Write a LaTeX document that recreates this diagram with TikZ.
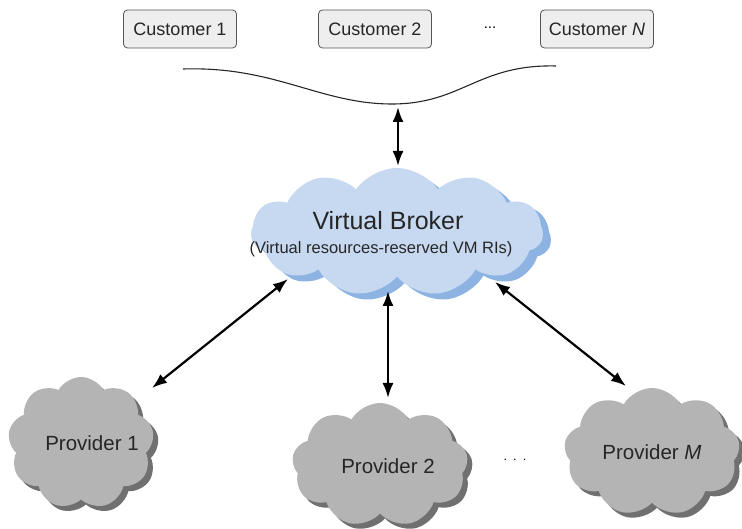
\documentclass[tikz,border=0pt]{standalone}
\usepackage{fontspec}
\setmainfont{Liberation Sans}
\usetikzlibrary{shapes.symbols,shadows,arrows.meta}
\definecolor{boxfill}{HTML}{EEEEEE}
\definecolor{boxline}{HTML}{555555}
\definecolor{brokerfill}{HTML}{C6D9F1}
\definecolor{brokershade}{HTML}{8DB3E2}
\definecolor{provfill}{HTML}{B4B4B4}
\definecolor{provshade}{HTML}{707070}
\tikzset{
  custbox/.style={draw=boxline, fill=boxfill, rounded corners=4pt, line width=0.8pt,
    minimum width=113pt, minimum height=38pt, font=\fontsize{18}{21}\selectfont, text=black!85},
  brokercloud/.style={cloud, cloud puffs=11, cloud puff arc=110, aspect=2.4,
    fill=brokerfill, draw=none, minimum width=292pt, minimum height=128pt,
    drop shadow={shadow xshift=8pt, shadow yshift=-6pt, fill=brokershade, opacity=1}},
  provcloud/.style={cloud, cloud puffs=9, cloud puff arc=120, aspect=1.2,
    fill=provfill, draw=none,
    drop shadow={shadow xshift=5pt, shadow yshift=-5pt, fill=provshade, opacity=1}},
  provtext/.style={font=\fontsize{20.5}{24}\selectfont, text=black!85},
  link/.style={{Latex[length=15pt,width=11pt]}-{Latex[length=15pt,width=11pt]}, line width=2.2pt},
}
\begin{document}
\begin{tikzpicture}[x=1pt,y=-1pt]
\useasboundingbox (0,0) rectangle (742,529);

% customers
\node[custbox] (c1) at (180,29) {Customer 1};
\node[custbox] (c2) at (375,29) {Customer 2};
\node[custbox] (cn) at (597,29) {Customer \textit{N}};
\node[font=\fontsize{15}{18}\selectfont] (cdots) at (490,28) {...};

% brace-like wave under the customers
\draw[line width=1.1pt, black!85] (183,69) .. controls (275,66) and (320,104) .. (392,104)
  .. controls (462,104) and (478,64) .. (556,66);
\coordinate (wave) at (398,107);

% broker cloud
\node[brokercloud] (broker) at (397,232) {};
\node[font=\fontsize{25}{30}\selectfont, text=black!85] (btitle) at (388,221) {Virtual Broker};
\node[font=\fontsize{16.5}{20}\selectfont, text=black!85] (bsub) at (381,249) {(Virtual resources-reserved VM RIs)};

% providers
\node[provcloud, minimum width=146pt, minimum height=132pt] (p1) at (81,443) {};
\node[provcloud, minimum width=176pt, minimum height=124pt] (p2) at (380,465) {};
\node[provcloud, minimum width=176pt, minimum height=128pt] (pm) at (652,452) {};
\node[provtext] (p1label) at (92,443) {Provider 1};
\node[provtext] (p2label) at (388,466) {Provider 2};
\node[provtext] (pmlabel) at (652,452) {Provider \textit{M}};
\node[font=\fontsize{15}{18}\selectfont] (pdots) at (515,460) {$\cdot\,\cdot\,\cdot$};

% arrow end points on the clouds
\coordinate (bt) at (398,166);
\coordinate (bl) at (288,279);
\coordinate (bm) at (388,291);
\coordinate (br) at (495,282);
\coordinate (p1t) at (152,388);
\coordinate (p2t) at (388,398);
\coordinate (pmt) at (626,386);

\draw[link] (wave) -- (bt);
\draw[link] (bl) -- (p1t);
\draw[link] (bm) -- (p2t);
\draw[link] (br) -- (pmt);
\end{tikzpicture}
\end{document}
